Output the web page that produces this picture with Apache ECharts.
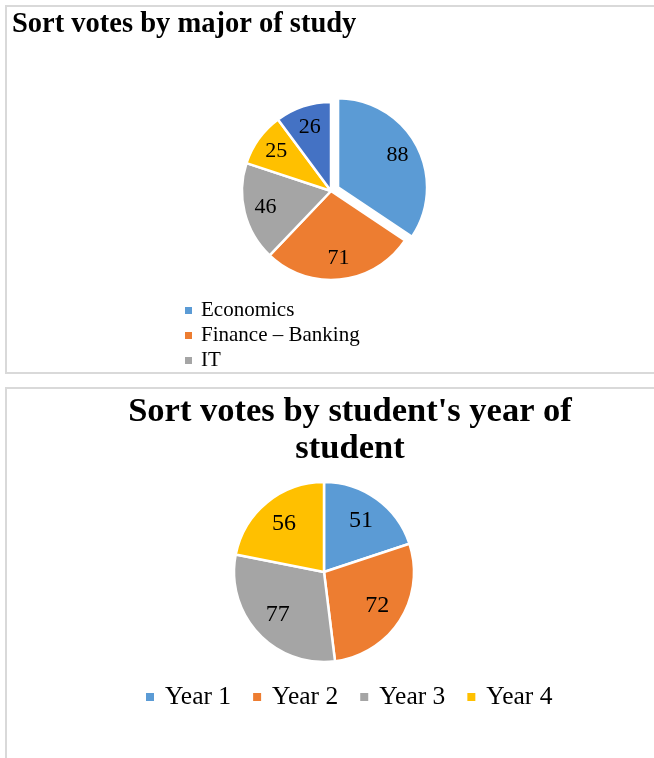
<!DOCTYPE html>
<html>
<head>
<meta charset="utf-8">
<style>
  html, body { margin: 0; padding: 0; background: #ffffff; }
  #chart { width: 654px; height: 758px; }
</style>
<script src="https://cdn.jsdelivr.net/npm/echarts@6/dist/echarts.min.js"></script>
</head>
<body>
<div id="chart"></div>
<script>
// ---- Data ----
const majorTitle = 'Sort votes by major of study';
const majorNames = ['Economics', 'Finance – Banking', 'IT', 'Major 4', 'Major 5'];
const majorValues = [88, 71, 46, 25, 26];
const majorLegendShown = ['Economics', 'Finance – Banking', 'IT'];
const majorColors = ['#5B9BD5', '#ED7D31', '#A5A5A5', '#FFC000', '#4472C4'];

const yearTitle = "Sort votes by student's year of\nstudent";
const yearNames = ['Year 1', 'Year 2', 'Year 3', 'Year 4'];
const yearValues = [51, 72, 77, 56];
const yearColors = ['#5B9BD5', '#ED7D31', '#A5A5A5', '#FFC000'];

const FONT = '"Liberation Serif", "Times New Roman", serif';

function pieData(names, values, colors, selectedIdx) {
  return names.map((n, i) => ({
    name: n, value: values[i],
    selected: i === selectedIdx,
    itemStyle: { color: colors[i] }
  }));
}
function labelRingData(names, values, selectedIdx) {
  return names.map((n, i) => ({ name: n, value: values[i], selected: i === selectedIdx }));
}

const chart = echarts.init(document.getElementById('chart'), null, { renderer: 'canvas' });

const option = {
  animation: false,
  backgroundColor: '#ffffff',
  graphic: [
    { type: 'rect', shape: { x: 6, y: 6, width: 660, height: 367 },
      style: { fill: 'none', stroke: '#d9d9d9', lineWidth: 2 }, silent: true, z: -10 },
    { type: 'rect', shape: { x: 6, y: 388, width: 660, height: 400 },
      style: { fill: 'none', stroke: '#d9d9d9', lineWidth: 2 }, silent: true, z: -10 }
  ],
  title: [
    { text: majorTitle, left: 12, top: 10, padding: 0,
      textStyle: { fontFamily: FONT, fontWeight: 'bold', fontSize: 28.5, lineHeight: 30, color: '#000' } },
    { text: yearTitle, left: 350, top: 394, padding: 0, textAlign: 'center',
      textStyle: { fontFamily: FONT, fontWeight: 'bold', fontSize: 34.5, lineHeight: 37, color: '#000' } }
  ],
  legend: [
    { data: majorLegendShown, orient: 'vertical', left: 185, top: 300, padding: 0,
      icon: 'rect', itemWidth: 7, itemHeight: 7, itemGap: 4, selectedMode: false,
      itemStyle: { borderWidth: 0 },
      textStyle: { fontFamily: FONT, fontSize: 21, lineHeight: 21, color: '#000', padding: [0, 0, 0, 4] } },
    { data: yearNames, orient: 'horizontal', left: 146, top: 684, padding: 0,
      icon: 'rect', itemWidth: 8, itemHeight: 8, itemGap: 22, selectedMode: false,
      itemStyle: { borderWidth: 0 },
      textStyle: { fontFamily: FONT, fontSize: 25.5, lineHeight: 26, color: '#000', padding: [0, 0, 0, 6] } }
  ],
  series: [
    { type: 'pie', name: 'major', center: [331, 191], radius: [0, 89], startAngle: 90, clockwise: true,
      selectedMode: 'multiple', selectedOffset: 8, silent: true,
      itemStyle: { borderColor: '#ffffff', borderWidth: 2.5 },
      label: { show: false }, labelLine: { show: false },
      emphasis: { disabled: true },
      data: pieData(majorNames, majorValues, majorColors, 0) },
    { type: 'pie', name: 'year', center: [324, 572], radius: [0, 90], startAngle: 90, clockwise: true,
      selectedMode: false, silent: true,
      itemStyle: { borderColor: '#ffffff', borderWidth: 2.5 },
      label: { show: false }, labelLine: { show: false },
      emphasis: { disabled: true },
      data: pieData(yearNames, yearValues, yearColors, -1) },
    // transparent label rings so the value labels sit at roughly 0.7 of the radius
    { type: 'pie', name: 'majorLabels', center: [331, 191], radius: [40, 89], startAngle: 90, clockwise: true,
      selectedMode: 'multiple', selectedOffset: 8, silent: true, legendHoverLink: false,
      itemStyle: { color: 'rgba(0,0,0,0)', borderWidth: 0 },
      label: { show: true, position: 'inside', formatter: '{c}', fontFamily: FONT, fontSize: 22, color: '#000' },
      labelLine: { show: false }, emphasis: { disabled: true },
      data: labelRingData(majorNames, majorValues, 0) },
    { type: 'pie', name: 'yearLabels', center: [324, 572], radius: [30, 90], startAngle: 90, clockwise: true,
      selectedMode: false, silent: true, legendHoverLink: false,
      itemStyle: { color: 'rgba(0,0,0,0)', borderWidth: 0 },
      label: { show: true, position: 'inside', formatter: '{c}', fontFamily: FONT, fontSize: 24, color: '#000' },
      labelLine: { show: false }, emphasis: { disabled: true },
      data: labelRingData(yearNames, yearValues, -1) }
  ]
};
chart.setOption(option);
</script>
</body>
</html>
